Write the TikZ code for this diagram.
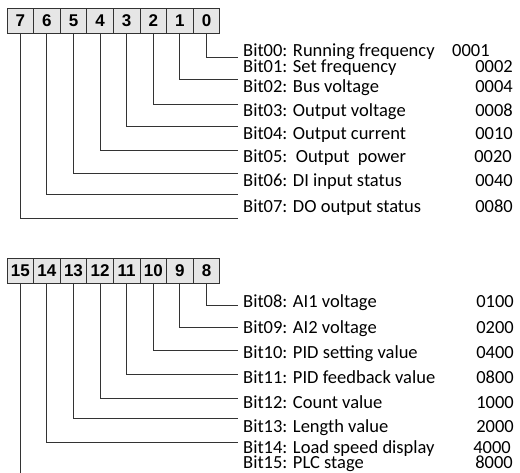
\documentclass[tikz,border=0pt]{standalone}
\usepackage{fontspec}
\setmainfont{Carlito}
\newfontfamily\digitfont{Liberation Sans}
\usetikzlibrary{positioning}

\definecolor{boxgray}{HTML}{E6E6E6}
\definecolor{wiregray}{HTML}{333333}

\begin{document}
\begin{tikzpicture}[
  x=1pt, y=-1pt,
  bit/.style={
    rectangle,
    draw=wiregray,
    line width=0.9pt,
    minimum width=26.6pt,
    minimum height=25pt,
    inner sep=0pt,
    outer sep=0pt,
    fill=boxgray,
    font=\digitfont\bfseries\fontsize{17}{17}\selectfont
  },
  label/.style={
    anchor=base west,
    inner sep=0pt,
    font=\fontsize{18.5}{20}\selectfont
  },
  code/.style={
    anchor=base east,
    inner sep=0pt,
    font=\fontsize{18.5}{20}\selectfont
  },
  wire/.style={line width=0.9pt, draw=wiregray}
]
\useasboundingbox (0,0) rectangle (520,473);

% ============================================================
% Top: low byte
% ============================================================

\node[bit] (b7) at (20.3,20.5) {7};
\node[bit, right=0pt of b7] (b6) {6};
\node[bit, right=0pt of b6] (b5) {5};
\node[bit, right=0pt of b5] (b4) {4};
\node[bit, right=0pt of b4] (b3) {3};
\node[bit, right=0pt of b3] (b2) {2};
\node[bit, right=0pt of b2] (b1) {1};
\node[bit, right=0pt of b1] (b0) {0};

\node[label] (l0) at (243,57) {Bit00: Running frequency};
\node[label] (l1) at (243,73) {Bit01: Set frequency};
\node[label] (l2) at (243,93) {Bit02: Bus voltage};
\node[label] (l3) at (243,117) {Bit03: Output voltage};
\node[label] (l4) at (243,140) {Bit04: Output current};
\node[label] (l5) at (243,163) {Bit05:~~Output~~power};
\node[label] (l6) at (243,187) {Bit06: DI input status};
\node[label] (l7) at (243,213) {Bit07: DO output status};

\node[label] (v0) at (452,57) {0001};
\node[code] (v1) at (513,73) {0002};
\node[code] (v2) at (513,93) {0004};
\node[code] (v3) at (513,117) {0008};
\node[code] (v4) at (513,140) {0010};
\node[code] (v5) at (512,163) {0020};
\node[code] (v6) at (513,187) {0040};
\node[code] (v7) at (513,213) {0080};

\coordinate (e0) at (238,57);
\coordinate (e1) at (238,79);
\coordinate (e2) at (238,104);
\coordinate (e3) at (238,126);
\coordinate (e4) at (238,150);
\coordinate (e5) at (238,173);
\coordinate (e6) at (238,194);
\coordinate (e7) at (238,218);

\draw[wire] (b0.south) |- (e0);
\draw[wire] (b1.south) |- (e1);
\draw[wire] (b2.south) |- (e2);
\draw[wire] (b3.south) |- (e3);
\draw[wire] (b4.south) |- (e4);
\draw[wire] (b5.south) |- (e5);
\draw[wire] (b6.south) |- (e6);
\draw[wire] (b7.south) |- (e7);

% ============================================================
% Bottom: high byte
% ============================================================

\node[bit] (b15) at (20.3,270.5) {15};
\node[bit, right=0pt of b15] (b14) {14};
\node[bit, right=0pt of b14] (b13) {13};
\node[bit, right=0pt of b13] (b12) {12};
\node[bit, right=0pt of b12] (b11) {11};
\node[bit, right=0pt of b11] (b10) {10};
\node[bit, right=0pt of b10] (b9) {9};
\node[bit, right=0pt of b9] (b8) {8};

\node[label] (l8) at (243,308) {Bit08: AI1 voltage};
\node[label] (l9) at (243,334) {Bit09: AI2 voltage};
\node[label] (l10) at (243,359) {Bit10: PID setting value};
\node[label] (l11) at (243,384) {Bit11: PID feedback value};
\node[label] (l12) at (243,408) {Bit12: Count value};
\node[label] (l13) at (243,432) {Bit13: Length value};
\node[label] (l14) at (243,453) {Bit14: Load speed display};
\node[label] (l15) at (243,468) {Bit15: PLC stage};

\node[code] (v8) at (514,308) {0100};
\node[code] (v9) at (514,334) {0200};
\node[code] (v10) at (514,359) {0400};
\node[code] (v11) at (514,384) {0800};
\node[code] (v12) at (514,408) {1000};
\node[code] (v13) at (514,432) {2000};
\node[code] (v14) at (511,453) {4000};
\node[code] (v15) at (513,468) {8000};

\coordinate (e8) at (238,305);
\coordinate (e9) at (238,327);
\coordinate (e10) at (238,350);
\coordinate (e11) at (238,374);
\coordinate (e12) at (238,398);
\coordinate (e13) at (238,418);
\coordinate (e14) at (238,442);
\coordinate (e15) at (b15.south |- 0,473);

\draw[wire] (b8.south) |- (e8);
\draw[wire] (b9.south) |- (e9);
\draw[wire] (b10.south) |- (e10);
\draw[wire] (b11.south) |- (e11);
\draw[wire] (b12.south) |- (e12);
\draw[wire] (b13.south) |- (e13);
\draw[wire] (b14.south) |- (e14);
\draw[wire] (b15.south) -- (e15);

\end{tikzpicture}
\end{document}
